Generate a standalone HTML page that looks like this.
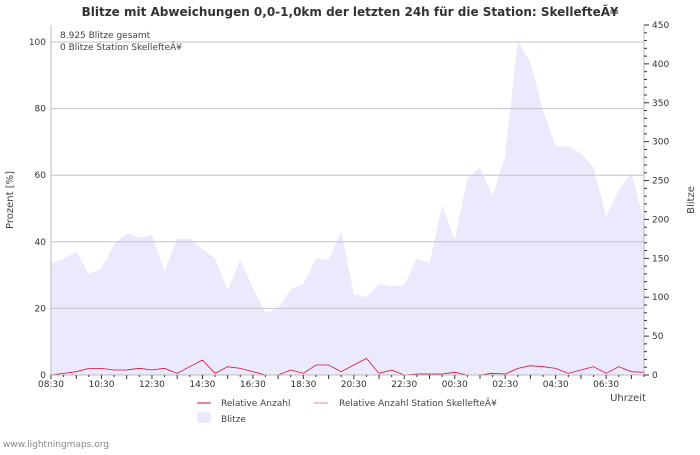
<!DOCTYPE html>
<html><head><meta charset="utf-8"><style>
body{margin:0;background:#fff;font-family:"Liberation Sans","DejaVu Sans",sans-serif}
svg text{font-family:"DejaVu Sans","Liberation Sans",sans-serif}
</style></head><body>
<svg id="c" width="700" height="450" viewBox="0 0 700 450">
<text x="350" y="16" text-anchor="middle" font-size="12" font-weight="bold" fill="#333">Blitze mit Abweichungen 0,0-1,0km der letzten 24h für die Station: SkellefteÃ¥</text>
<g id="area"></g><g id="grid"></g><g id="lines"></g><g id="axes"></g>
<text x="60" y="38" font-size="9" fill="#444">8.925 Blitze gesamt</text>
<text x="60" y="50" font-size="9" fill="#444">0 Blitze Station SkellefteÃ¥</text>
<text transform="translate(13,200) rotate(-90)" text-anchor="middle" font-size="10" fill="#444">Prozent   [%]</text>
<text transform="translate(694,200) rotate(-90)" text-anchor="middle" font-size="10" fill="#444">Blitze</text>
<text x="628" y="401" text-anchor="middle" font-size="10" fill="#444">Uhrzeit</text>
<g>
<line x1="197" y1="403" x2="211" y2="403" stroke="#d6103a" stroke-width="1"/>
<text x="221" y="406" font-size="9" fill="#444">Relative Anzahl</text>
<line x1="314" y1="403" x2="328" y2="403" stroke="#f08090" stroke-width="1"/>
<text x="339" y="406" font-size="9" fill="#444">Relative Anzahl Station SkellefteÃ¥</text>
<rect x="197" y="412" width="14" height="11" fill="#eaeafc"/>
<text x="221" y="422" font-size="9" fill="#444">Blitze</text>
</g>
<text x="3" y="447" font-size="9" fill="#888">www.lightningmaps.org</text>
</svg>
<script>
const xTickLabels=["08:30","10:30","12:30","14:30","16:30","18:30","20:30","22:30","00:30","02:30","04:30","06:30"];
const leftTicks=[0,20,40,60,80,100];
const rightTicks=[0,50,100,150,200,250,300,350,400,450];
const blitze=[144,149,159,130,137,168,182,177,180,134,175,175,162,150,109,148,112,80,86,110,117,150,148,185,104,100,117,114,116,150,144,218,174,253,267,231,281,430,402,340,294,294,285,267,204,238,260,197];
const relAnzahl=[0,0.5,1,2,2,1.5,1.5,2,1.5,2,0.5,2.5,4.5,0.5,2.5,2,1,0,0,1.5,0.5,3,3,1,3,5,0.5,1.5,0,0.3,0.3,0.3,0.8,0,0,0.5,0.3,2,2.8,2.5,2,0.5,1.5,2.5,0.5,2.5,1,0.8];
const relStation=blitze.map(()=>0);
const L=51,R=644,B=375,T=25;
const xs=i=>L+i*(R-L)/(blitze.length-1);
const yL=v=>B-v*(B-42)/100;
const yR=v=>B-v*(B-T)/450;
const NS="http://www.w3.org/2000/svg";
function mk(p,t,a){const e=document.createElementNS(NS,t);for(const k in a)e.setAttribute(k,a[k]);p.appendChild(e);return e;}
const grid=document.getElementById('grid'),area=document.getElementById('area'),lines=document.getElementById('lines'),axes=document.getElementById('axes');
leftTicks.forEach(v=>{if(v>0){const g=mk(grid,'line',{x1:L,x2:R,y1:yL(v),y2:yL(v),stroke:'#c4c4cc'});

}
const t=mk(axes,'text',{x:L-5,y:yL(v)+3,'text-anchor':'end','font-size':9,fill:'#333'});t.textContent=v;

});
let d='M'+L+','+B;blitze.forEach((v,i)=>d+=' L'+xs(i)+','+yR(v));d+=' L'+R+','+B+'Z';
const a=mk(area,'path',{d:d,fill:'#eaeafc'});


const ps=mk(lines,'polyline',{points:relStation.map((v,i)=>xs(i)+','+yL(v)).join(' '),fill:'none',stroke:'#f08090'});


const pl=mk(lines,'polyline',{points:relAnzahl.map((v,i)=>xs(i)+','+yL(v)).join(' '),fill:'none',stroke:'#d6103a','stroke-width':0.8});


mk(axes,'line',{x1:L,x2:L,y1:T,y2:B,stroke:'#bbb'});
mk(axes,'line',{x1:L,x2:R,y1:B,y2:B,stroke:'#bbb'});
mk(axes,'line',{x1:R,x2:R,y1:T,y2:B,stroke:'#bbb'});
for(let v=0;v<=450;v+=10){mk(axes,'line',{x1:R,x2:R+(v%50?3:5),y1:yR(v),y2:yR(v),stroke:'#333'});}
rightTicks.forEach(v=>{const t=mk(axes,'text',{x:R+8,y:yR(v)+3,'font-size':9,fill:'#333'});t.textContent=v;

});
for(let i=0;i<blitze.length;i++){mk(axes,'line',{x1:xs(i),x2:xs(i),y1:B,y2:B+(i%2?2:4),stroke:'#333'});}
xTickLabels.forEach((s,k)=>{const t=mk(axes,'text',{x:xs(k*4),y:387,'text-anchor':'middle','font-size':9,fill:'#333'});t.textContent=s;

});
</script>
</body></html>
